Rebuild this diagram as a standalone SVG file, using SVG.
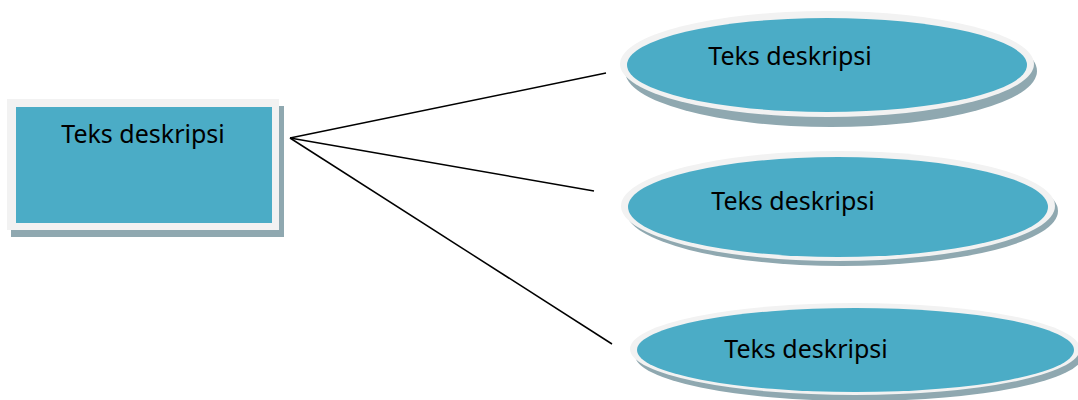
<svg xmlns="http://www.w3.org/2000/svg" width="1078" height="400" viewBox="0 0 1078 400">
<style>
.sh{fill:#8fa8b0}
.rim{fill:#f2f2f2}
.fill{fill:#4bacc6}
.lbl{font-family:"Noto Sans","Open Sans",sans-serif;font-size:25px;fill:#000}
.conn{stroke:#000;stroke-width:1.5;fill:none}
</style>
<rect width="1078" height="400" fill="#fff"/>
<g id="connectors">
<line class="conn" x1="290" y1="138" x2="606" y2="73"/>
<line class="conn" x1="290" y1="138" x2="594" y2="191"/>
<line class="conn" x1="290" y1="138" x2="612" y2="344"/>
</g>
<g id="node-box">
<rect class="sh" x="11" y="106" width="273" height="131"/>
<rect class="rim" x="7" y="99" width="272" height="131"/>
<rect class="fill" x="16" y="107" width="256" height="116"/>
<text class="lbl" x="143" y="143" text-anchor="middle">Teks deskripsi</text>
</g>
<g id="node-ellipse-1">
<ellipse class="sh" cx="831" cy="71" rx="206" ry="56"/>
<ellipse class="rim" cx="827" cy="64" rx="207" ry="53"/>
<ellipse class="fill" cx="827" cy="65" rx="200" ry="47"/>
<text class="lbl" x="790" y="65" text-anchor="middle">Teks deskripsi</text>
</g>
<g id="node-ellipse-2">
<ellipse class="sh" cx="842" cy="211" rx="216" ry="55"/>
<ellipse class="rim" cx="838" cy="206" rx="217" ry="55"/>
<ellipse class="fill" cx="838" cy="207" rx="210" ry="50"/>
<text class="lbl" x="793" y="210" text-anchor="middle">Teks deskripsi</text>
</g>
<g id="node-ellipse-3">
<ellipse class="sh" cx="859" cy="355" rx="224" ry="46"/>
<ellipse class="rim" cx="855" cy="349" rx="225" ry="46"/>
<ellipse class="fill" cx="855.5" cy="350" rx="218.5" ry="42"/>
<text class="lbl" x="806" y="358" text-anchor="middle">Teks deskripsi</text>
</g>
</svg>
